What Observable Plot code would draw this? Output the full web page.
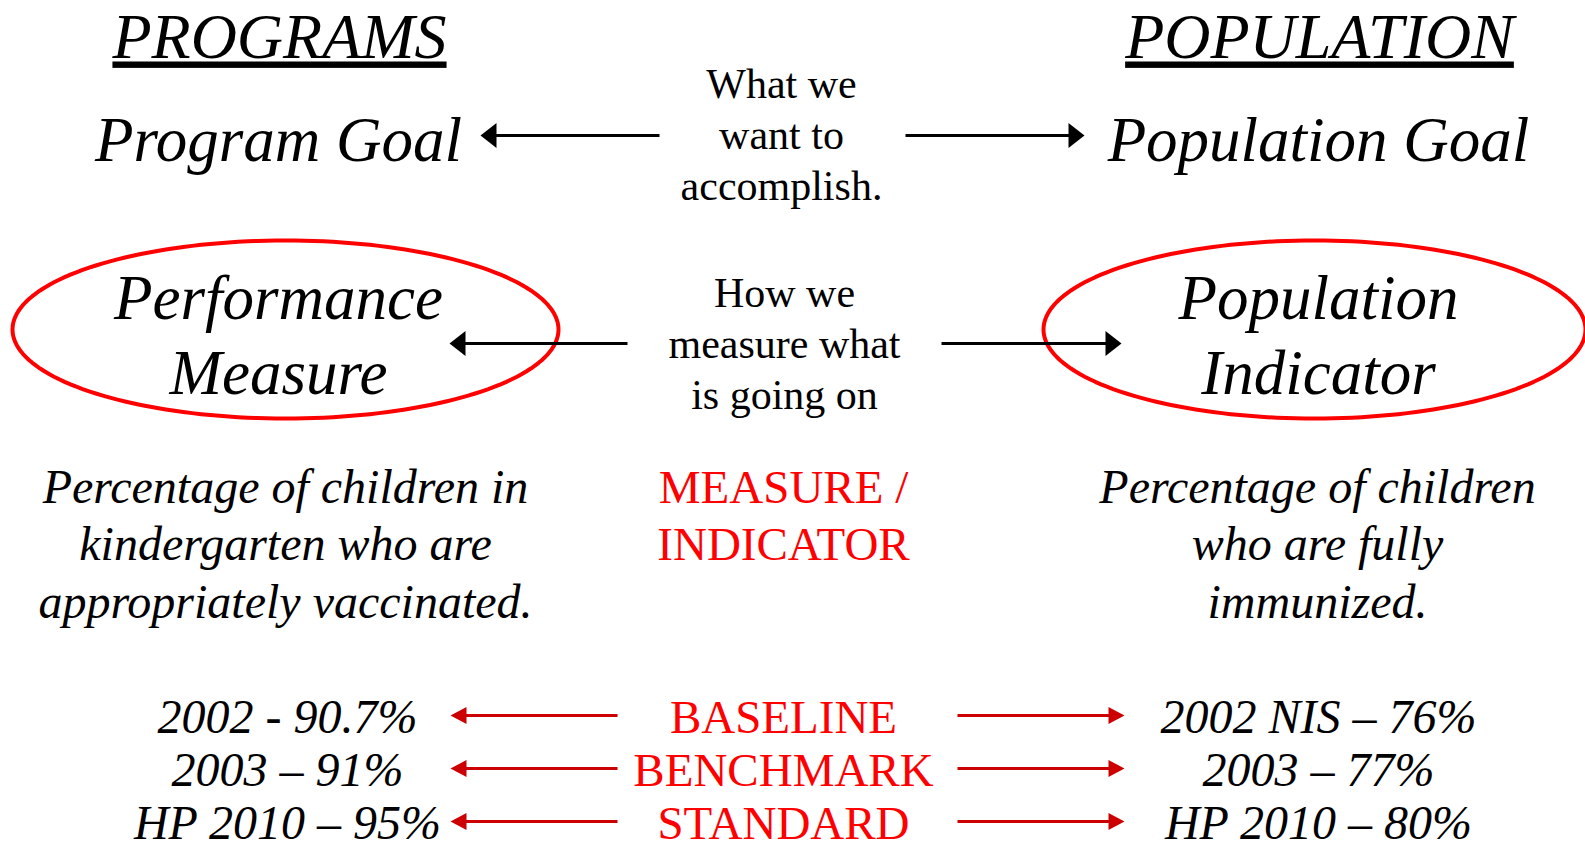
<!DOCTYPE html>
<html>
<head>
<meta charset="utf-8">
<script src="https://cdn.jsdelivr.net/npm/d3@7"></script>
<script src="https://cdn.jsdelivr.net/npm/@observablehq/plot@0.6"></script>
<style>
  html, body { margin: 0; padding: 0; background: #ffffff; }
  #chart { width: 1585px; height: 849px; overflow: hidden; }
</style>
</head>
<body>
<div id="chart"></div>
<script>
// ---- Content (text of the diagram) ----
const headings = ["PROGRAMS", "POPULATION"];
const goals = ["Program Goal", "Population Goal"];
const purposeLines = ["What we", "want to", "accomplish."];
const programMeasureLines = ["Performance", "Measure"];
const populationMeasureLines = ["Population", "Indicator"];
const howLines = ["How we", "measure what", "is going on"];
const programDefinitionLines = ["Percentage of children in", "kindergarten who are", "appropriately vaccinated."];
const populationDefinitionLines = ["Percentage of children", "who are fully", "immunized."];
const measureLabelLines = ["MEASURE /", "INDICATOR"];
const stageLabels = ["BASELINE", "BENCHMARK", "STANDARD"];
const programValues = ["2002 - 90.7%", "2003 \u2013 91%", "HP 2010 \u2013 95%"];
const populationValues = ["2002 NIS \u2013 76%", "2003 \u2013 77%", "HP 2010 \u2013 80%"];

// ---- Layout (pixel space of the 1585x849 picture) ----
const W = 1585, H = 849;
const FONT = "Liberation Serif, Times New Roman, serif";
const BLACK = "#000000", RED = "#ff0000", DARKRED = "#cc0000";

function stack(lines, x, y0, dy) {
  return lines.map((t, i) => ({text: t, x, y: y0 + i * dy}));
}

const headingRows = headings.map((t, i) => ({text: t, x: i ? 1319 : 279, y: 57}));
const goalRows = goals.map((t, i) => ({text: t, x: i ? 1318 : 278, y: 160}));
const purposeRows = stack(purposeLines, 781, 97, 51);
const measureNameRows = [
  ...stack(programMeasureLines, 278, 318, 75),
  ...stack(populationMeasureLines, 1318, 318, 75)
];
const howRows = stack(howLines, 784, 306, 51);
const definitionRows = [
  ...stack(programDefinitionLines, 285, 502, 57.5),
  ...stack(populationDefinitionLines, 1317, 502, 57.5)
];
const measureLabelRows = stack(measureLabelLines, 783, 502, 57.5);
const rowTop = 732, rowStep = 53;
const stageRows = stack(stageLabels, 783, rowTop, rowStep);
const valueRows = [
  ...stack(programValues, 287, rowTop, rowStep),
  ...stack(populationValues, 1318, rowTop, rowStep)
];

// arrows: shaft start, tip, y
const blackArrows = [
  {x0: 659, tip: 480, y: 135},
  {x0: 905, tip: 1084, y: 135},
  {x0: 627, tip: 449, y: 343},
  {x0: 941, tip: 1121, y: 343}
];
const redArrows = [0, 1, 2].flatMap(i => [
  {x0: 617, tip: 450, y: rowTop - 17 + i * rowStep},
  {x0: 957, tip: 1124, y: rowTop - 17 + i * rowStep}
]);

function shaft(a, len) {
  const dir = a.tip < a.x0 ? -1 : 1;
  return {x1: a.x0, x2: a.tip - dir * (len - 2), y: a.y};
}
function headSymbol(dir, len, height) {
  // triangle with its tip at the origin, pointing left (dir=-1) or right (dir=1)
  return {
    draw(ctx) {
      ctx.moveTo(0, 0);
      ctx.lineTo(-dir * len, -height / 2);
      ctx.lineTo(-dir * len, height / 2);
      ctx.closePath();
    }
  };
}

const ellipses = [
  {id: "left", cx: 285, cy: 329, rx: 273, ry: 89},
  {id: "right", cx: 1314, cy: 329, rx: 271, ry: 89}
];
const ellipsePts = ellipses.flatMap(e =>
  d3.range(0, 361, 2).map(a => ({
    id: e.id,
    x: e.cx + e.rx * Math.cos(a * Math.PI / 180),
    y: e.cy + e.ry * Math.sin(a * Math.PI / 180)
  }))
);

function txt(rows, opts) {
  return Plot.text(rows, {
    x: "x", y: "y", text: "text",
    textAnchor: "middle", lineAnchor: "bottom",
    fontFamily: FONT, fill: BLACK, ...opts
  });
}

const BL = 16, BH = 25, RL = 16, RH = 17;

const chart = Plot.plot({
  width: W,
  height: H,
  margin: 0,
  style: {background: "#ffffff", overflow: "hidden"},
  x: {domain: [0, W], range: [0, W], axis: null},
  y: {domain: [0, H], range: [0, H], axis: null},
  marks: [
    // ellipses
    Plot.line(ellipsePts, {x: "x", y: "y", z: "id", stroke: RED, strokeWidth: 4, curve: "linear-closed"}),
    // black arrows
    Plot.link(blackArrows.map(a => shaft(a, BL)), {x1: "x1", x2: "x2", y1: "y", y2: "y", stroke: BLACK, strokeWidth: 3}),
    Plot.dot(blackArrows.filter(a => a.tip < a.x0), {x: "tip", y: "y", symbol: headSymbol(-1, BL, BH), fill: BLACK, stroke: "none", r: 5}),
    Plot.dot(blackArrows.filter(a => a.tip > a.x0), {x: "tip", y: "y", symbol: headSymbol(1, BL, BH), fill: BLACK, stroke: "none", r: 5}),
    // red arrows
    Plot.link(redArrows.map(a => shaft(a, RL)), {x1: "x1", x2: "x2", y1: "y", y2: "y", stroke: DARKRED, strokeWidth: 3}),
    Plot.dot(redArrows.filter(a => a.tip < a.x0), {x: "tip", y: "y", symbol: headSymbol(-1, RL, RH), fill: DARKRED, stroke: "none", r: 5}),
    Plot.dot(redArrows.filter(a => a.tip > a.x0), {x: "tip", y: "y", symbol: headSymbol(1, RL, RH), fill: DARKRED, stroke: "none", r: 5}),
    // texts
    txt(headingRows, {fontSize: 64, fontStyle: "italic"}),
    txt(goalRows, {fontSize: 63, fontStyle: "italic"}),
    txt(purposeRows, {fontSize: 42}),
    txt(measureNameRows, {fontSize: 63, fontStyle: "italic"}),
    txt(howRows, {fontSize: 42}),
    txt(definitionRows, {fontSize: 48, fontStyle: "italic"}),
    txt(measureLabelRows, {fontSize: 47, fill: RED}),
    txt(stageRows, {fontSize: 47, fill: RED}),
    txt(valueRows, {fontSize: 48, fontStyle: "italic"})
  ]
});

// underline the two column headings
chart.querySelectorAll("text").forEach(t => {
  if (headings.includes(t.textContent)) {
    t.style.textDecoration = "underline";
    t.style.textDecorationThickness = "3px";
  }
});

document.getElementById("chart").appendChild(chart);
</script>
</body>
</html>
